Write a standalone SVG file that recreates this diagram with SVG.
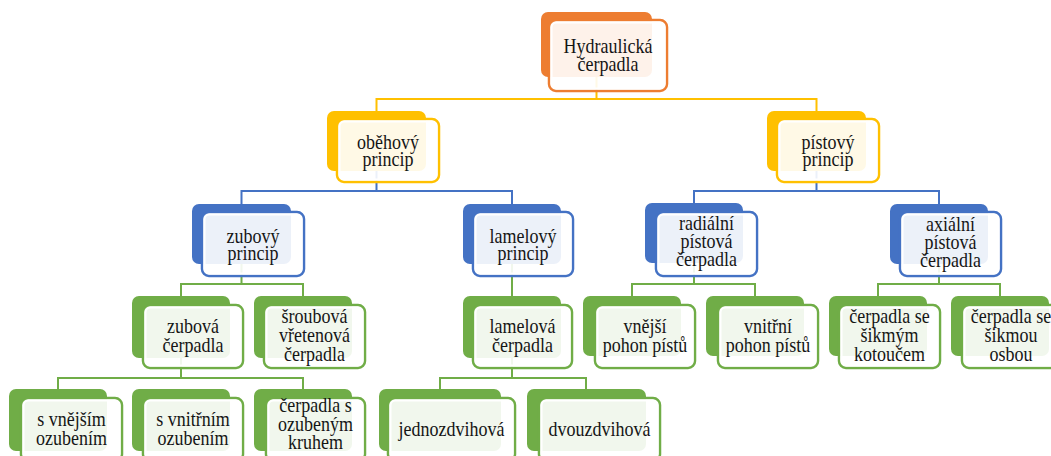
<svg xmlns="http://www.w3.org/2000/svg" width="1051" height="456" viewBox="0 0 1051 456">
<style>
.c{fill:none;stroke-width:2}
.co{stroke:#FFC000}.cb{stroke:#4472C4}.cg{stroke:#70AD47}
.f{fill:#fff;fill-opacity:.9;stroke-width:2.5}
.w{fill:none;stroke:#fff;stroke-width:2}
.o0{fill:#ED7D31}.o1{fill:#FFC000}.o2{fill:#4472C4}.o3{fill:#70AD47}
.s0{stroke:#ED7D31}.s1{stroke:#FFC000}.s2{stroke:#4472C4}.s3{stroke:#70AD47}
text{font-family:'Liberation Serif','DejaVu Serif',serif;font-size:18px;fill:#151515;text-anchor:middle}
</style>
<rect width="1051" height="456" fill="#fff"/>
<g id="connectors">
<path class="c co" d="M596.5,77V99M376.5,111V99H816.5V111"/>
<path class="c cb" d="M376.5,171V191M241.5,204V191H512V204"/>
<path class="c cb" d="M816.5,171V191M694,204V191H939V204"/>
<path class="c cg" d="M241.5,264V284M181,296V284H303V296"/>
<path class="c cg" d="M512,263V296"/>
<path class="c cg" d="M694,262V284M632,296V284H755V296"/>
<path class="c cg" d="M939,263V284M878,296V284H1000V296"/>
<path class="c cg" d="M181,358V378M58,389V378H303V389"/>
<path class="c cg" d="M512,358V378M440,389V378H586V389"/>
</g>
<g id="n-hydraulicka">
<rect class="o0" x="541" y="12" width="111" height="65" rx="7"/>
<rect class="f s0" x="549" y="20" width="118" height="71" rx="7"/>
<rect class="w" x="551.5" y="22.5" width="113" height="66" rx="5"/>
<text font-family="Liberation Serif, DejaVu Serif, serif" transform="translate(608,53) scale(1,1.17)"><tspan x="0" y="0">Hydraulická</tspan><tspan x="0" y="15.4">čerpadla</tspan></text>
</g>
<g id="n-obehovy">
<rect class="o1" x="327" y="111" width="99" height="60" rx="7"/>
<rect class="f s1" x="337" y="119" width="102" height="63" rx="7"/>
<rect class="w" x="339.5" y="121.5" width="97" height="58" rx="5"/>
<text transform="translate(388,149) scale(1,1.17)"><tspan x="0" y="0">oběhový</tspan><tspan x="0" y="14.5">princip</tspan></text>
</g>
<g id="n-pistovy">
<rect class="o1" x="767" y="111" width="99" height="60" rx="7"/>
<rect class="f s1" x="777" y="119" width="102" height="63" rx="7"/>
<rect class="w" x="779.5" y="121.5" width="97" height="58" rx="5"/>
<text transform="translate(828,149) scale(1,1.17)"><tspan x="0" y="0">pístový</tspan><tspan x="0" y="14.5">princip</tspan></text>
</g>
<g id="n-zubovy">
<rect class="o2" x="192" y="204" width="99" height="60" rx="7"/>
<rect class="f s2" x="202" y="212" width="102" height="64" rx="7"/>
<rect class="w" x="204.5" y="214.5" width="97" height="59" rx="5"/>
<text transform="translate(253,243) scale(1,1.17)"><tspan x="0" y="0">zubový</tspan><tspan x="0" y="14.5">princip</tspan></text>
</g>
<g id="n-lamelovy">
<rect class="o2" x="463" y="204" width="98" height="60" rx="7"/>
<rect class="f s2" x="473" y="212" width="100" height="64" rx="7"/>
<rect class="w" x="475.5" y="214.5" width="95" height="59" rx="5"/>
<text transform="translate(523,243) scale(1,1.17)"><tspan x="0" y="0">lamelový</tspan><tspan x="0" y="14.5">princip</tspan></text>
</g>
<g id="n-radialni">
<rect class="o2" x="645" y="203" width="98" height="60" rx="7"/>
<rect class="f s2" x="656" y="212" width="101" height="64" rx="7"/>
<rect class="w" x="658.5" y="214.5" width="96" height="59" rx="5"/>
<text transform="translate(706.5,230) scale(1,1.17)"><tspan x="0" y="0">radiální</tspan><tspan x="0" y="15.4">pístová</tspan><tspan x="0" y="30.8">čerpadla</tspan></text>
</g>
<g id="n-axialni">
<rect class="o2" x="890" y="204" width="98" height="60" rx="7"/>
<rect class="f s2" x="900" y="212" width="101" height="64" rx="7"/>
<rect class="w" x="902.5" y="214.5" width="96" height="59" rx="5"/>
<text transform="translate(950.5,231) scale(1,1.17)"><tspan x="0" y="0">axiální</tspan><tspan x="0" y="15.4">pístová</tspan><tspan x="0" y="30.8">čerpadla</tspan></text>
</g>
<g id="n-zubova">
<rect class="o3" x="132" y="296" width="98" height="62" rx="7"/>
<rect class="f s3" x="143" y="305" width="100" height="63" rx="7"/>
<rect class="w" x="145.5" y="307.5" width="95" height="58" rx="5"/>
<text transform="translate(193,333) scale(1,1.17)"><tspan x="0" y="0">zubová</tspan><tspan x="0" y="16.2">čerpadla</tspan></text>
</g>
<g id="n-sroubova">
<rect class="o3" x="254" y="296" width="98" height="62" rx="7"/>
<rect class="f s3" x="264" y="305" width="101" height="63" rx="7"/>
<rect class="w" x="266.5" y="307.5" width="96" height="58" rx="5"/>
<text transform="translate(314.5,323) scale(1,1.17)"><tspan x="0" y="0">šroubová</tspan><tspan x="0" y="16.2">vřetenová</tspan><tspan x="0" y="32.5">čerpadla</tspan></text>
</g>
<g id="n-lamelova">
<rect class="o3" x="463" y="296" width="98" height="62" rx="7"/>
<rect class="f s3" x="473" y="305" width="99" height="63" rx="7"/>
<rect class="w" x="475.5" y="307.5" width="94" height="58" rx="5"/>
<text transform="translate(522.5,333) scale(1,1.17)"><tspan x="0" y="0">lamelová</tspan><tspan x="0" y="16.2">čerpadla</tspan></text>
</g>
<g id="n-vnejsi">
<rect class="o3" x="583" y="296" width="98" height="60" rx="7"/>
<rect class="f s3" x="595" y="305" width="100" height="63" rx="7"/>
<rect class="w" x="597.5" y="307.5" width="95" height="58" rx="5"/>
<text transform="translate(645,333) scale(1,1.17)"><tspan x="0" y="0">vnější</tspan><tspan x="0" y="16.2">pohon pístů</tspan></text>
</g>
<g id="n-vnitrni">
<rect class="o3" x="706" y="296" width="98" height="60" rx="7"/>
<rect class="f s3" x="718" y="305" width="100" height="63" rx="7"/>
<rect class="w" x="720.5" y="307.5" width="95" height="58" rx="5"/>
<text transform="translate(768,333) scale(1,1.17)"><tspan x="0" y="0">vnitřní</tspan><tspan x="0" y="16.2">pohon pístů</tspan></text>
</g>
<g id="n-sikmym">
<rect class="o3" x="829" y="296" width="98" height="60" rx="7"/>
<rect class="f s3" x="839" y="305" width="101" height="63" rx="7"/>
<rect class="w" x="841.5" y="307.5" width="96" height="58" rx="5"/>
<text transform="translate(889.5,323) scale(1,1.17)"><tspan x="0" y="0">čerpadla se</tspan><tspan x="0" y="16.2">šikmým</tspan><tspan x="0" y="32.5">kotoučem</tspan></text>
</g>
<g id="n-sikmou">
<rect class="o3" x="951" y="296" width="98" height="60" rx="7"/>
<rect class="f s3" x="962" y="305" width="100" height="63" rx="7"/>
<rect class="w" x="964.5" y="307.5" width="95" height="58" rx="5"/>
<text transform="translate(1011,323) scale(1,1.17)"><tspan x="0" y="0">čerpadla se</tspan><tspan x="0" y="16.2">šikmou</tspan><tspan x="0" y="32.5">osbou</tspan></text>
</g>
<g id="n-vnejsim">
<rect class="o3" x="9" y="389" width="98" height="62" rx="7"/>
<rect class="f s3" x="21" y="398" width="101" height="63" rx="7"/>
<rect class="w" x="23.5" y="400.5" width="96" height="58" rx="5"/>
<text transform="translate(71.5,426) scale(1,1.17)"><tspan x="0" y="0">s vnějším</tspan><tspan x="0" y="16.2">ozubením</tspan></text>
</g>
<g id="n-vnitrnim">
<rect class="o3" x="132" y="389" width="98" height="62" rx="7"/>
<rect class="f s3" x="143" y="398" width="100" height="63" rx="7"/>
<rect class="w" x="145.5" y="400.5" width="95" height="58" rx="5"/>
<text transform="translate(193,426) scale(1,1.17)"><tspan x="0" y="0">s vnitřním</tspan><tspan x="0" y="16.2">ozubením</tspan></text>
</g>
<g id="n-kruhem">
<rect class="o3" x="254" y="389" width="98" height="62" rx="7"/>
<rect class="f s3" x="266" y="398" width="99" height="63" rx="7"/>
<rect class="w" x="268.5" y="400.5" width="94" height="58" rx="5"/>
<text transform="translate(315.5,412) scale(1,1.17)"><tspan x="0" y="0">čerpadla s</tspan><tspan x="0" y="16.2">ozubeným</tspan><tspan x="0" y="31.6">kruhem</tspan></text>
</g>
<g id="n-jednozdvihova">
<rect class="o3" x="379" y="389" width="122" height="62" rx="7"/>
<rect class="f s3" x="388" y="398" width="127" height="63" rx="7"/>
<rect class="w" x="390.5" y="400.5" width="122" height="58" rx="5"/>
<text transform="translate(451.5,436) scale(1,1.17)">jednozdvihová</text>
</g>
<g id="n-dvouzdvihova">
<rect class="o3" x="527" y="389" width="119" height="62" rx="7"/>
<rect class="f s3" x="539" y="398" width="121" height="63" rx="7"/>
<rect class="w" x="541.5" y="400.5" width="116" height="58" rx="5"/>
<text transform="translate(599.5,436) scale(1,1.17)">dvouzdvihová</text>
</g>
</svg>
